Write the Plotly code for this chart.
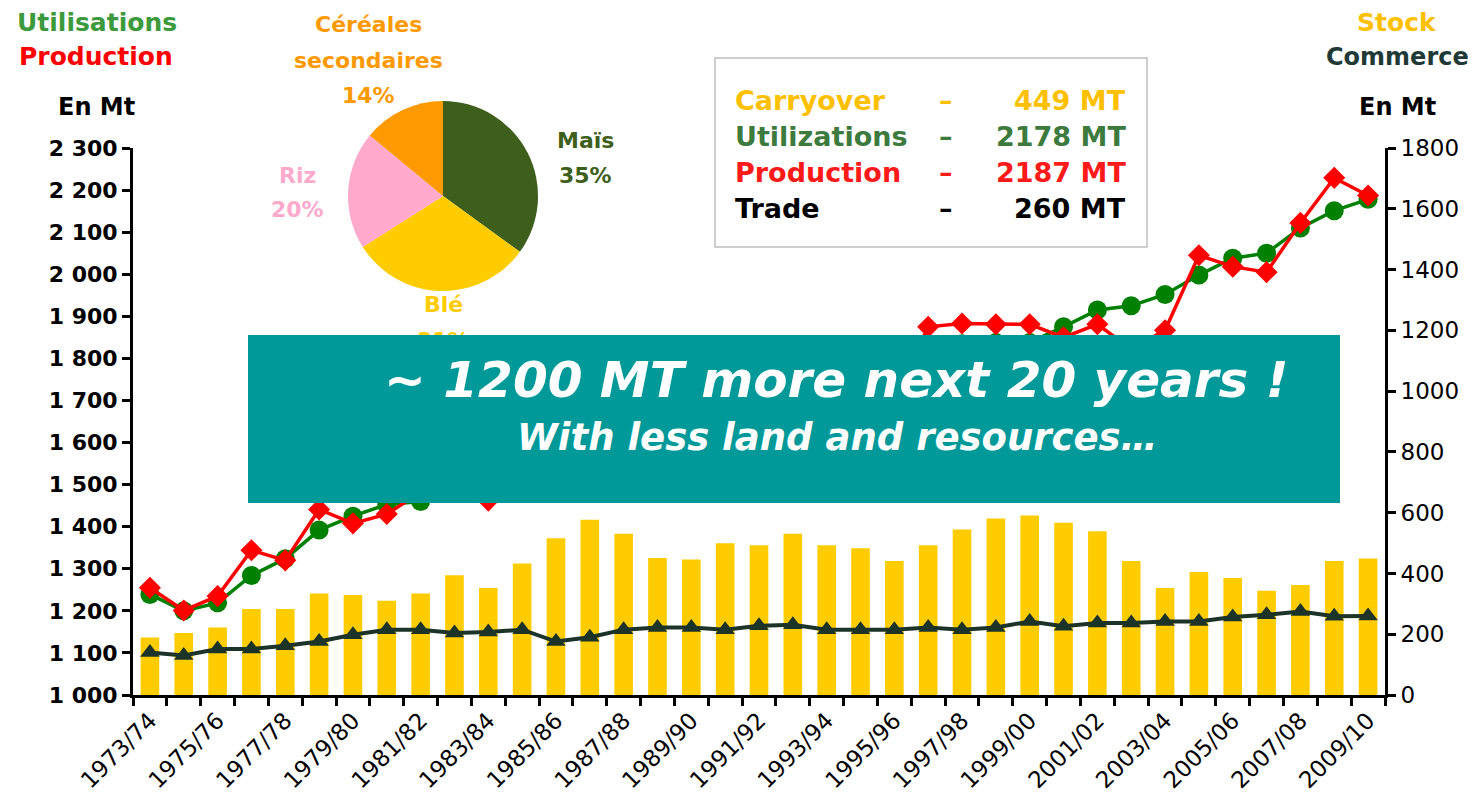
import plotly.graph_objects as go

W, H = 1472, 798

# ---------------- data ----------------
categories = ["1973/74", "1974/75", "1975/76", "1976/77", "1977/78", "1978/79", "1979/80",
              "1980/81", "1981/82", "1982/83", "1983/84", "1984/85", "1985/86", "1986/87",
              "1987/88", "1988/89", "1989/90", "1990/91", "1991/92", "1992/93", "1993/94",
              "1994/95", "1995/96", "1996/97", "1997/98", "1998/99", "1999/00", "2000/01",
              "2001/02", "2002/03", "2003/04", "2004/05", "2005/06", "2006/07", "2007/08",
              "2008/09", "2009/10"]
stock = [189, 204, 222, 283, 283, 334, 329, 310, 334, 394, 352, 433, 516, 577, 531, 451, 446,
         499, 493, 531, 493, 483, 441, 493, 545, 581, 591, 567, 539, 441, 352, 405, 385, 343,
         362, 441, 449]
trade = [140, 130, 151, 151, 162, 176, 198, 215, 215, 204, 207, 215, 176, 190, 215, 222, 222,
         215, 228, 231, 215, 215, 215, 222, 215, 222, 242, 226, 237, 237, 242, 242, 257, 264,
         275, 259, 260]
production = [1255, 1201, 1235, 1344, 1320, 1441, 1408, 1430, 1482, 1533, 1462, 1646, 1662,
              1682, 1606, 1551, 1680, 1768, 1709, 1788, 1713, 1758, 1705, 1875, 1883, 1881,
              1881, 1850, 1881, 1822, 1867, 2045, 2018, 2005, 2122, 2229, 2187]
utilisation = [1239, 1200, 1219, 1284, 1324, 1392, 1425, 1453, 1460, 1490, 1510, 1540, 1560,
               1620, 1640, 1650, 1680, 1700, 1720, 1740, 1760, 1770, 1770, 1830, 1835, 1838,
               1838, 1875, 1915, 1925, 1952, 1998, 2038, 2050, 2110, 2151, 2178]

left_ticks = [1000, 1100, 1200, 1300, 1400, 1500, 1600, 1700, 1800, 1900, 2000, 2100, 2200, 2300]
left_ticktext = ["1 000", "1 100", "1 200", "1 300", "1 400", "1 500", "1 600", "1 700",
                 "1 800", "1 900", "2 000", "2 100", "2 200", "2 300"]
right_ticks = [0, 200, 400, 600, 800, 1000, 1200, 1400, 1600, 1800]

pie_labels = ["Maïs", "Blé", "Riz", "Céréales secondaires"]
pie_values = [35, 31, 20, 14]

box_labels = ["Carryover", "Utilizations", "Production", "Trade"]
box_values = ["449 MT", "2178 MT", "2187 MT", "260 MT"]

banner_line1 = "~ 1200 MT more next 20 years !"
banner_line2 = "With less land and resources…"

# ---------------- helpers (pixel -> paper) ----------------
def px(x):
    return x / W


def py(y):
    return 1 - y / H


x_tick_text = [c if i % 2 == 0 else "" for i, c in enumerate(categories)]

# ---------------- colours ----------------
C_STOCK = "#ffcc00"
C_TRADE = "#1c3328"
C_PROD = "#ff0000"
C_UTIL = "#008000"
pie_colors = ["#3e5f1c", "#ffcc00", "#ffaacc", "#ff9900"]

fig = go.Figure()

fig.add_trace(go.Bar(x=categories, y=stock, marker=dict(color=C_STOCK, line=dict(width=0)),
                     yaxis="y", name="Stock"))
fig.add_trace(go.Scatter(x=categories, y=trade, mode="lines+markers", yaxis="y",
                         line=dict(color=C_TRADE, width=4),
                         marker=dict(symbol="triangle-up", size=17, color=C_TRADE),
                         name="Commerce"))
fig.add_trace(go.Scatter(x=categories, y=utilisation, mode="lines+markers", yaxis="y2",
                         line=dict(color=C_UTIL, width=3.5),
                         marker=dict(symbol="circle", size=19, color=C_UTIL),
                         name="Utilisations"))
fig.add_trace(go.Scatter(x=categories, y=production, mode="lines+markers", yaxis="y2",
                         line=dict(color=C_PROD, width=3.5),
                         marker=dict(symbol="diamond", size=17, color=C_PROD),
                         name="Production"))

# pie inset
pc_x, pc_y, pr = 443, 196, 95
fig.add_trace(go.Pie(labels=pie_labels, values=pie_values, sort=False, direction="clockwise",
                     rotation=0, textinfo="none", hoverinfo="label+percent",
                     marker=dict(colors=pie_colors, line=dict(width=0)),
                     domain=dict(x=[px(pc_x - pr), px(pc_x + pr)],
                                 y=[py(pc_y + pr), py(pc_y - pr)]),
                     showlegend=False))

axis_left, axis_right, axis_top, axis_bottom = 133, 1385, 148, 695

fig.update_layout(
    width=W, height=H,
    margin=dict(l=0, r=0, t=0, b=0),
    paper_bgcolor="white", plot_bgcolor="white",
    showlegend=False,
    bargap=0.45,
    xaxis=dict(type="category", domain=[px(axis_left), px(axis_right)],
               range=[-0.5, len(categories) - 0.5],
               tickmode="array", tickvals=categories, ticktext=x_tick_text,
               tickson="boundaries", ticks="outside", ticklen=8, tickwidth=3,
               tickcolor="black", showline=True, linewidth=3, linecolor="black",
               showgrid=False, zeroline=False, tickangle=-45,
               tickfont=dict(family="DejaVu Sans", size=23, color="black"),
               anchor="y", automargin=False),
    yaxis=dict(domain=[py(axis_bottom), py(axis_top)], range=[0, 1800], side="right",
               tickmode="array", tickvals=right_ticks, ticks="outside", ticklen=8,
               tickwidth=3, tickcolor="black", showline=True, linewidth=3,
               linecolor="black", showgrid=False, zeroline=False,
               tickfont=dict(family="DejaVu Sans", size=23, color="black"),
               anchor="x", automargin=False),
    yaxis2=dict(overlaying="y", side="left", range=[1000, 2300], anchor="x",
                tickmode="array", tickvals=left_ticks, ticktext=left_ticktext,
                ticks="outside", ticklen=8, tickwidth=3, tickcolor="black", showline=True,
                linewidth=3, linecolor="black", showgrid=False, zeroline=False,
                tickfont=dict(family="DejaVu Sans", size=22, color="black", weight="bold"),
                automargin=False),
)

# legend box
fig.add_shape(type="rect", xref="paper", yref="paper", x0=px(715), x1=px(1147),
              y0=py(247), y1=py(58), line=dict(color="#bfbfbf", width=1.5),
              fillcolor="white", layer="below")

ann = []


def text(x, y, s, color, size, family="DejaVu Sans", bold=True, xanchor="center",
         italic=False):
    ann.append(dict(x=px(x), y=py(y), xref="paper", yref="paper", text=s, showarrow=False,
                    xanchor=xanchor, yanchor="middle",
                    font=dict(family=family, size=size, color=color,
                              weight="bold" if bold else "normal",
                              style="italic" if italic else "normal")))


# top corner titles
text(97, 22, "Utilisations", "#3c9a3c", 25)
text(96, 56, "Production", "#ff0000", 25)
text(96, 107, "En Mt", "black", 24)
text(1397, 22, "Stock", "#ffc000", 25)
text(1397, 57, "Commerce", "#1f3a36", 24)
text(1397, 107, "En Mt", "black", 24)

# legend box text
box_colors = ["#ffc000", "#3d7a3d", "#ff1a1a", "black"]
box_y = [100, 136, 172, 208]
for lab, val, col, yy in zip(box_labels, box_values, box_colors, box_y):
    text(733, yy, lab, col, 27, xanchor="left")
    text(946, yy, "–", col, 27)
    text(1128, yy, val, col, 27, xanchor="right")

# pie labels
text(368, 25, "Céréales", "#ff9900", 22)
text(368, 60, "secondaires", "#ff9900", 22)
text(368, 95, "14%", "#ff9900", 22)
text(585, 140, "Maïs", "#3e5f1c", 22)
text(585, 175, "35%", "#3e5f1c", 22)
text(297, 175, "Riz", "#ffaacc", 22)
text(297, 210, "20%", "#ffaacc", 22)
text(443, 305, "Blé", "#ffcc00", 22)
text(443, 340, "31%", "#ffcc00", 22)

# banner background (drawn after pie labels so it covers them)
ann.append(dict(x=px(248), y=py(335), xref="paper", yref="paper", text=" ",
                showarrow=False, xanchor="left", yanchor="top", width=1092, height=168,
                bgcolor="#009999", borderpad=0, borderwidth=0))
text(836, 380, banner_line1, "white", 50, italic=True)
text(838, 437, banner_line2, "white", 37, italic=True)

fig.update_layout(annotations=ann)

fig.write_html("out.html", config={"displayModeBar": False},
               post_script="document.body.style.margin='0';document.body.style.overflow='hidden';")
